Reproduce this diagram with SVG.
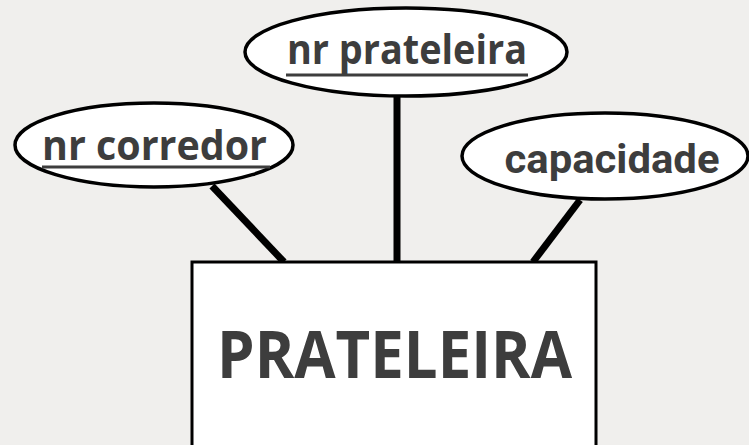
<svg xmlns="http://www.w3.org/2000/svg" width="749" height="445" viewBox="0 0 749 445">
<style>
.attr{fill:#ffffff;stroke:#000000;stroke-width:3.5}
.ent{fill:#ffffff;stroke:#000000;stroke-width:3}
.lbl{font-family:"Open Sans","Liberation Sans",sans-serif;font-weight:700;fill:#3d3d3d;text-anchor:middle}
.ul{stroke:#3d3d3d;stroke-width:3}
.conn{stroke:#000000;stroke-width:7;fill:none}
</style>
<rect x="0" y="0" width="749" height="445" fill="#f0efed"/>
<g id="connectors">
<line class="conn" x1="212" y1="186" x2="284" y2="262"/>
<line class="conn" x1="397" y1="95" x2="397" y2="262"/>
<line class="conn" x1="580" y1="200" x2="533" y2="262"/>
</g>
<g id="entity-prateleira">
<rect class="ent" x="192" y="262" width="404" height="200"/>
<text class="lbl" x="394.5" y="378" style="font-size:67px" textLength="355" lengthAdjust="spacingAndGlyphs">PRATELEIRA</text>
</g>
<g id="attr-nr-corredor">
<ellipse class="attr" cx="154" cy="145" rx="139" ry="42"/>
<text class="lbl" x="154.5" y="160" style="font-size:42px" textLength="225" lengthAdjust="spacingAndGlyphs">nr corredor</text>
<line class="ul" x1="42" y1="167" x2="270" y2="167"/>
</g>
<g id="attr-nr-prateleira">
<ellipse class="attr" cx="406" cy="52" rx="161" ry="44"/>
<text class="lbl" x="407" y="64" style="font-size:42px" textLength="240" lengthAdjust="spacingAndGlyphs">nr prateleira</text>
<line class="ul" x1="286" y1="75" x2="528" y2="75"/>
</g>
<g id="attr-capacidade">
<ellipse class="attr" cx="605" cy="156" rx="143" ry="43"/>
<text class="lbl" x="612" y="173" style="font-size:41px;font-family:Roboto,sans-serif;font-weight:700" textLength="215" lengthAdjust="spacingAndGlyphs">capacidade</text>
</g>
</svg>
